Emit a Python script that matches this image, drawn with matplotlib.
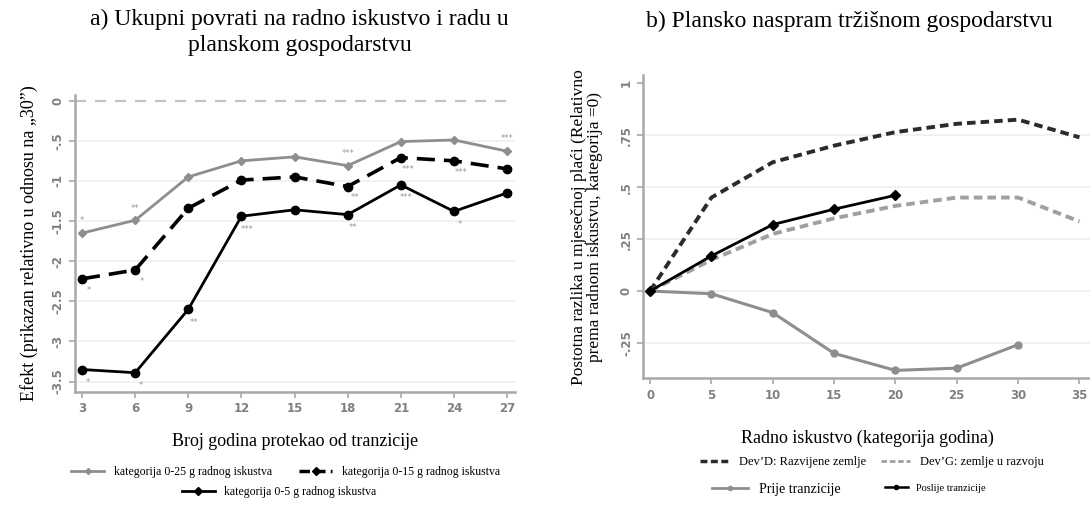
import numpy as np
import matplotlib.pyplot as plt
from matplotlib.lines import Line2D

plt.rcParams['font.family'] = ['Liberation Serif', 'DejaVu Serif']

# a) lijevi graf
godine = [3, 6, 9, 12, 15, 18, 21, 24, 27]
kat_25 = [-1.65, -1.49, -0.95, -0.75, -0.70, -0.81, -0.51, -0.49, -0.63]
kat_15 = [-2.22, -2.11, -1.34, -0.99, -0.95, -1.07, -0.71, -0.75, -0.85]
kat_5 = [-3.35, -3.39, -2.60, -1.44, -1.36, -1.42, -1.05, -1.38, -1.15]
zv_25 = ['*', '**', '', '', '', '***', '', '', '***']
zv_15 = ['*', '*', '', '', '', '**', '***', '***', '']
zv_5 = ['*', '*', '**', '***', '', '**', '***', '*', '']
y_ticks_a = [0, -0.5, -1, -1.5, -2, -2.5, -3, -3.5]
y_labels_a = ['0', '-.5', '-1', '-1.5', '-2', '-2.5', '-3', '-3.5']

# b) desni graf
iskustvo = [0, 5, 10, 15, 20, 25, 30, 35]
dev_d = [0, 0.45, 0.62, 0.70, 0.765, 0.805, 0.825, 0.74]
dev_g = [0, 0.15, 0.275, 0.35, 0.41, 0.45, 0.45, 0.335]
isk_prije = [0, 5, 10, 15, 20, 25, 30]
prije = [0, -0.013, -0.104, -0.30, -0.382, -0.371, -0.258]
isk_poslije = [0, 5, 10, 15, 20]
poslije = [0, 0.169, 0.32, 0.394, 0.461]
y_ticks_b = [1, 0.75, 0.5, 0.25, 0, -0.25]
y_labels_b = ['1', '.75', '.5', '.25', '0', '-.25']

GRAY = '#8e8e8e'
AXC = '#a8a8a8'
TICKC = '#808080'
GRID = '#eaf1f1'


def stata_axes(ax):
    for s in ['top', 'right']:
        ax.spines[s].set_visible(False)
    for s in ['left', 'bottom']:
        ax.spines[s].set_color(AXC)
        ax.spines[s].set_linewidth(1.8)
    ax.tick_params(colors=AXC, length=4, width=1.2, labelcolor=TICKC)
    for lab in ax.get_xticklabels() + ax.get_yticklabels():
        lab.set_family('DejaVu Sans')
        lab.set_fontweight('bold')
        lab.set_fontsize(8.5)


fig = plt.figure(figsize=(10.9, 5.05), dpi=100)

# ---------- a) ----------
ax1 = fig.add_axes([0.0688, 0.2238, 0.4037, 0.588])
ax1.set_xlim(2.6, 27.45)
ax1.set_ylim(-3.63, 0.07)
for yv in y_ticks_a[1:]:
    ax1.axhline(yv, color=GRID, lw=1.2, zorder=0)
ax1.axhline(0, color='#c4c4c4', lw=1.6, ls=(0, (5, 4)), zorder=1)

ax1.plot(godine, kat_25, color=GRAY, lw=2, marker='D', ms=4, zorder=3)
ax1.plot(godine, kat_15, color='black', lw=2.6, ls=(0, (5, 2.5)), marker='o', ms=6, zorder=4)
ax1.plot(godine, kat_5, color='black', lw=2, marker='o', ms=6, zorder=5)

for x, y, s in zip(godine, kat_25, zv_25):
    if s:
        ax1.annotate(s, (x, y), xytext=(0, 7), textcoords='offset points',
                     ha='center', fontsize=6, color='#999999', family='DejaVu Sans')
for x, y, s in zip(godine, kat_15, zv_15):
    if s:
        ax1.annotate(s, (x, y), xytext=(5, -10), textcoords='offset points',
                     ha='center', fontsize=6, color='#999999', family='DejaVu Sans')
for x, y, s in zip(godine, kat_5, zv_5):
    if s:
        ax1.annotate(s, (x, y), xytext=(4, -11), textcoords='offset points',
                     ha='center', fontsize=6, color='#999999', family='DejaVu Sans')

ax1.set_xticks(godine)
ax1.set_yticks(y_ticks_a)
ax1.set_yticklabels(y_labels_a, rotation=90, va='center')
stata_axes(ax1)
ax1.set_xlabel('Broj godina protekao od tranzicije', fontsize=13, labelpad=13)
ax1.set_ylabel('Efekt (prikazan relativno u odnosu na „30”)', fontsize=13, labelpad=10)
fig.text(0.275, 0.936, 'a) Ukupni povrati na radno iskustvo i radu u\nplanskom gospodarstvu',
         ha='center', va='center', fontsize=17, linespacing=1.3)

h1 = [Line2D([], [], color=GRAY, lw=2, marker='D', ms=3),
      Line2D([], [], color='black', lw=2.5, ls=(0, (3, 1.5)), marker='D', ms=4)]
fig.legend(h1, ['kategorija 0-25 g radnog iskustva', 'kategorija 0-15 g radnog iskustva'],
           ncol=2, loc='center', bbox_to_anchor=(0.262, 0.066), frameon=False,
           fontsize=8.5, handlelength=2.8, columnspacing=2.3)
h2 = [Line2D([], [], color='black', lw=2, marker='D', ms=4)]
fig.legend(h2, ['kategorija 0-5 g radnog iskustva'], loc='center',
           bbox_to_anchor=(0.256, 0.026), frameon=False, fontsize=8.5, handlelength=2.8)

# ---------- b) ----------
ax2 = fig.add_axes([0.5902, 0.2509, 0.4114, 0.6006])
ax2.set_xlim(-0.55, 36)
ax2.set_ylim(-0.42, 1.04)
for yv in y_ticks_b[1:]:
    ax2.axhline(yv, color=GRID, lw=1.2, zorder=0)

ax2.plot(iskustvo, dev_d, color='#2b2b2b', lw=2.8, ls=(0, (2.2, 1.3)), zorder=3)
ax2.plot(iskustvo, dev_g, color='#a0a0a0', lw=2.8, ls=(0, (2.2, 1.3)), zorder=3)
ax2.plot(isk_prije, prije, color=GRAY, lw=2.2, marker='o', ms=5, zorder=4)
ax2.plot(isk_poslije, poslije, color='black', lw=2, marker='D', ms=5, zorder=5)

ax2.set_xticks(iskustvo)
ax2.set_yticks(y_ticks_b)
ax2.set_yticklabels(y_labels_b, rotation=90, va='center')
stata_axes(ax2)
ax2.set_xlabel('Radno iskustvo (kategorija godina)', fontsize=13, labelpad=20)
ax2.set_ylabel('Postotna razlika u mjesečnoj plaći (Relativno\nprema radnom iskustvu, kategorija =0)',
               fontsize=12.5, labelpad=12, linespacing=1.05)
fig.text(0.779, 0.957, 'b) Plansko naspram tržišnom gospodarstvu', ha='center', va='center',
         fontsize=17)

h3 = [Line2D([], [], color='#2b2b2b', lw=2.5, ls=(0, (2, 1))),
      Line2D([], [], color='#a0a0a0', lw=2, ls=(0, (2, 1)))]
fig.legend(h3, ['Dev’D: Razvijene zemlje', 'Dev’G: zemlje u razvoju'], ncol=2, loc='center',
           bbox_to_anchor=(0.800, 0.085), frameon=False, fontsize=9, handlelength=2.3,
           columnspacing=1.2)
fig.legend([Line2D([], [], color=GRAY, lw=2, marker='o', ms=3)], ['Prije tranzicije'],
           loc='center', bbox_to_anchor=(0.712, 0.030), frameon=False, fontsize=10,
           handlelength=2.6)
fig.legend([Line2D([], [], color='black', lw=1.8, marker='o', ms=3)], ['Poslije tranzicije'],
           loc='center', bbox_to_anchor=(0.858, 0.033), frameon=False, fontsize=7.5,
           handlelength=2.2)

fig.savefig('out.png', dpi=100)
